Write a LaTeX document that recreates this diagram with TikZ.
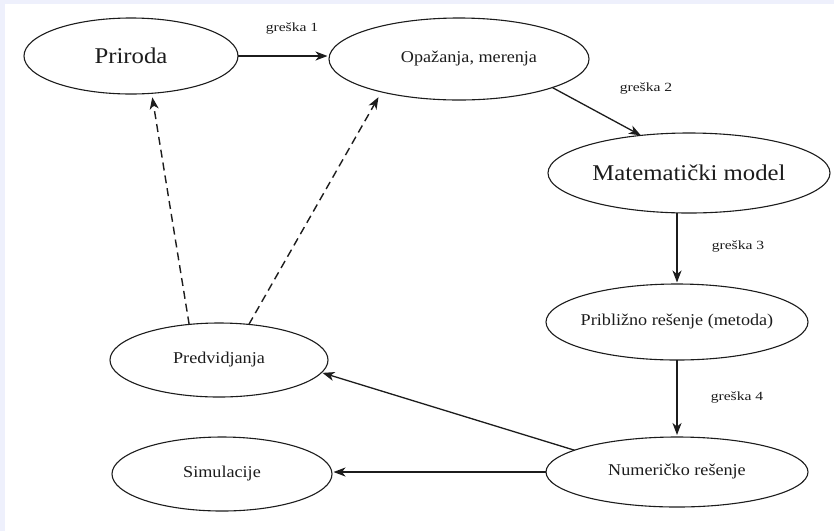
\documentclass[tikz,border=0pt]{standalone}
\usepackage{fontspec}
\setmainfont{Liberation Serif}[FakeStretch=1.1]
\newfontfamily\errfont{Liberation Serif}[FakeStretch=1.25]
\usetikzlibrary{shapes.geometric,arrows.meta}
\definecolor{lav}{RGB}{238,240,252}
\definecolor{ink}{RGB}{28,28,28}
\newcommand{\ctext}[1]{\makebox[0pt][c]{#1}}
\begin{document}
\begin{tikzpicture}[x=1pt,y=-1pt,
  oval/.style={draw=ink,line width=1.1pt,ellipse,inner sep=0pt,outer sep=0pt,text=ink},
  big/.style={font=\fontsize{22.5}{27}\selectfont},
  mid/.style={font=\fontsize{16.5}{20}\selectfont},
  errlab/.style={text=ink,font=\errfont\fontsize{12.5}{14}\selectfont,inner sep=0pt},
  arr/.style={draw=ink,line width=1.3pt,-{Stealth[length=12pt,width=9pt,inset=3.5pt]}},
  darr/.style={arr,line width=1.4pt,dash pattern=on 8pt off 5pt}]
\fill[lav] (0,0) rectangle (834,531);
\fill[white] (5,4) rectangle (834,531);
\useasboundingbox (0,0) rectangle (834,531);

\node[oval,big,minimum width=214pt,minimum height=76pt] (pri) at (131,56) {\ctext{Priroda}};
\node[oval,mid,minimum width=260pt,minimum height=82pt] (opa) at (459,59) {\ctext{\hspace*{20pt}Opažanja, merenja}};
\node[oval,big,minimum width=282pt,minimum height=80pt] (mat) at (689,173) {\ctext{Matematički model}};
\node[oval,mid,minimum width=262pt,minimum height=76pt] (pribl) at (677,322) {\ctext{Približno rešenje (metoda)}};
\node[oval,mid,minimum width=262pt,minimum height=70pt] (num) at (677,472) {\ctext{Numeričko rešenje}};
\node[oval,mid,minimum width=218pt,minimum height=74pt] (pred) at (219,360) {\ctext{Predvidjanja}};
\node[oval,mid,minimum width=220pt,minimum height=74pt] (sim) at (222,474) {\ctext{Simulacije}};

\node[errlab] (e1) at (292,28) {greška 1};
\node[errlab] (e2) at (646,88) {greška 2};
\node[errlab] (e3) at (738,246) {greška 3};
\node[errlab] (e4) at (737,397) {greška 4};

\draw[arr,shorten >=1.5pt] (pri.east) -- (pri.east -| opa.west);
\draw[arr] (opa.343) -- (mat.142);
\draw[arr,shorten >=1.5pt] (pribl.north |- mat.south) -- (pribl.north);
\draw[arr,shorten >=2pt] (pribl.south) -- (num.north);
\draw[arr,shorten >=1pt] (num.168) -- (pred.353);
\draw[arr,shorten >=1.5pt] (num.west) -- (num.west -| sim.east);
\draw[darr,shorten >=4pt] (pred.130) -- (pri.299);
\draw[darr,shorten >=6pt] (pred.50) -- (opa.203);
\end{tikzpicture}
\end{document}
